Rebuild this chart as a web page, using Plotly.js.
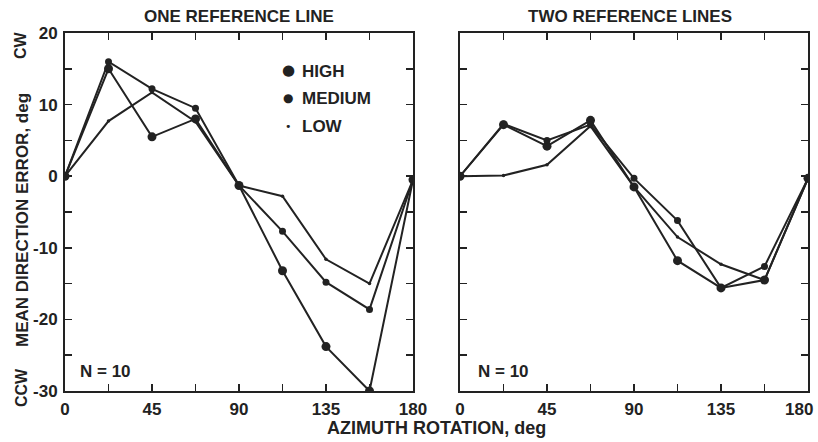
<!DOCTYPE html>
<html><head><meta charset="utf-8">
<script src="https://cdn.plot.ly/plotly-3.0.1.min.js"></script>
<style>html,body{margin:0;padding:0;background:#fff}#c{width:818px;height:442px}</style>
</head><body><div id="c"></div>
<script>
const azimuth = [0, 22.5, 45, 67.5, 90, 112.5, 135, 157.5, 180];
// One reference line
const oneHigh   = [0, 15.0, 5.5, 8.0, -1.3, -13.2, -23.8, -30.0, -0.5];
const oneMedium = [0, 16.0, 12.2, 9.5, -1.3, -7.7, -14.8, -18.6, -0.5];
const oneLow    = [0, 7.7, 11.7, 7.6, -1.3, -2.8, -11.6, -15.0, -0.5];
// Two reference lines
const twoHigh   = [0, 7.2, 4.2, 7.8, -1.5, -11.8, -15.6, -14.5, -0.3];
const twoMedium = [0, 7.3, 5.0, 7.2, -0.3, -6.2, -15.6, -12.6, -0.3];
const twoLow    = [0, 0.1, 1.6, 7.0, -1.5, -8.5, -12.3, -14.5, -0.3];
const seriesNames = ['HIGH', 'MEDIUM', 'LOW'];
const xTicks = [0, 45, 90, 135, 180];
const xTickText = ['0', '45', '90', '135', '180'];
const yTicks = [20, 10, 0, -10, -20, -30];

const lineColor = '#222';
const markerSizes = [9, 7, 3.5];
function tr(y, i, xa, ya) {
  return {x: azimuth, y: y, xaxis: xa, yaxis: ya, mode: 'lines+markers', name: seriesNames[i],
    showlegend: false, line: {color: lineColor, width: 2}, marker: {color: lineColor, size: markerSizes[i]}};
}
const data = [
  tr(oneHigh, 0, 'x', 'y'), tr(oneMedium, 1, 'x', 'y'), tr(oneLow, 2, 'x', 'y'),
  tr(twoHigh, 0, 'x2', 'y2'), tr(twoMedium, 1, 'x2', 'y2'), tr(twoLow, 2, 'x2', 'y2')
];
const F = 'Liberation Sans, Arial, sans-serif';
const tickFont = {family: F, size: 17, color: '#222', weight: 'bold'};
function xa(dom, anchor, texts) {
  return {domain: dom, anchor: anchor, range: [0, 180], tickvals: xTicks, ticktext: texts,
    ticks: 'inside', ticklen: 7, tickwidth: 1.5, tickcolor: '#222', showline: true, linecolor: '#222', linewidth: 2,
    mirror: 'ticks', showgrid: false, zeroline: false, tickfont: tickFont, ticklabelstandoff: 2,
    minor: {dtick: 22.5, tick0: 0, ticks: 'inside', ticklen: 7, tickwidth: 1.5, tickcolor: '#222', showgrid: false}};
}
function ya(dom, anchor, labels) {
  return {domain: dom, anchor: anchor, range: [-30, 20], tickvals: yTicks, ticktext: yTicks.map(String),
    showticklabels: labels, ticks: 'inside', ticklen: 7, tickwidth: 1.5, tickcolor: '#222', showline: true,
    linecolor: '#222', linewidth: 2, mirror: 'ticks', showgrid: false, zeroline: false, tickfont: tickFont,
    ticklabelstandoff: 2,
    minor: {dtick: 5, tick0: 0, ticks: 'inside', ticklen: 7, tickwidth: 1.5, tickcolor: '#222', showgrid: false}};
}
const yDom = [1 - 391/442, 1 - 33/442];
const bold = (s, sz) => ({family: F, size: sz, color: '#222', weight: 'bold'});
const ann = [
  {text: 'ONE REFERENCE LINE', x: 239/818, y: 1 - 17/442, font: bold(0, 17)},
  {text: 'TWO REFERENCE LINES', x: 630/818, y: 1 - 17/442, font: bold(0, 17)},
  {text: 'AZIMUTH ROTATION, deg', x: 436/818, y: 1 - 428/442, font: bold(0, 18)},
  {text: 'MEAN DIRECTION ERROR, deg', x: 22/818, y: 1 - 220/442, textangle: -90, font: bold(0, 17)},
  {text: 'CW', x: 21/818, y: 1 - 45/442, textangle: -90, font: bold(0, 16)},
  {text: 'CCW', x: 21/818, y: 1 - 388/442, textangle: -90, font: bold(0, 16)},
  {text: 'N = 10', x: 106/818, y: 1 - 371/442, font: bold(0, 17)},
  {text: 'N = 10', x: 504/818, y: 1 - 371/442, font: bold(0, 17)},
  {text: '180', x: 815/818, y: 1 - 409/442, xanchor: 'right', font: bold(0, 17)},
  {text: '●', x: 288/818, y: 1 - 70/442, font: {family: 'DejaVu Sans', size: 15, color: '#222'}},
  {text: '●', x: 288/818, y: 1 - 98/442, font: {family: 'DejaVu Sans', size: 12, color: '#222'}},
  {text: '•', x: 288/818, y: 1 - 126/442, font: {family: 'DejaVu Sans', size: 11, color: '#222'}},
  {text: 'HIGH', x: 300/818, y: 1 - 71/442, xanchor: 'left', font: bold(0, 17)},
  {text: 'MEDIUM', x: 300/818, y: 1 - 99/442, xanchor: 'left', font: bold(0, 17)},
  {text: 'LOW', x: 300/818, y: 1 - 127/442, xanchor: 'left', font: bold(0, 17)}
].map(a => Object.assign({xref: 'paper', yref: 'paper', showarrow: false, xanchor: 'center', yanchor: 'middle'}, a));
const layout = {
  width: 818, height: 442, margin: {l: 0, r: 0, t: 0, b: 0}, paper_bgcolor: '#fff', plot_bgcolor: '#fff',
  showlegend: false,
  xaxis: xa([65/818, 413/818], 'y', xTickText), yaxis: ya(yDom, 'x', true),
  xaxis2: xa([460/818, 808/818], 'y2', xTickText.map((t, i) => i === xTickText.length - 1 ? '' : t)),
  yaxis2: ya(yDom, 'x2', false),
  annotations: ann
};
Plotly.newPlot('c', data, layout, {displayModeBar: false, staticPlot: true});
</script></body></html>
